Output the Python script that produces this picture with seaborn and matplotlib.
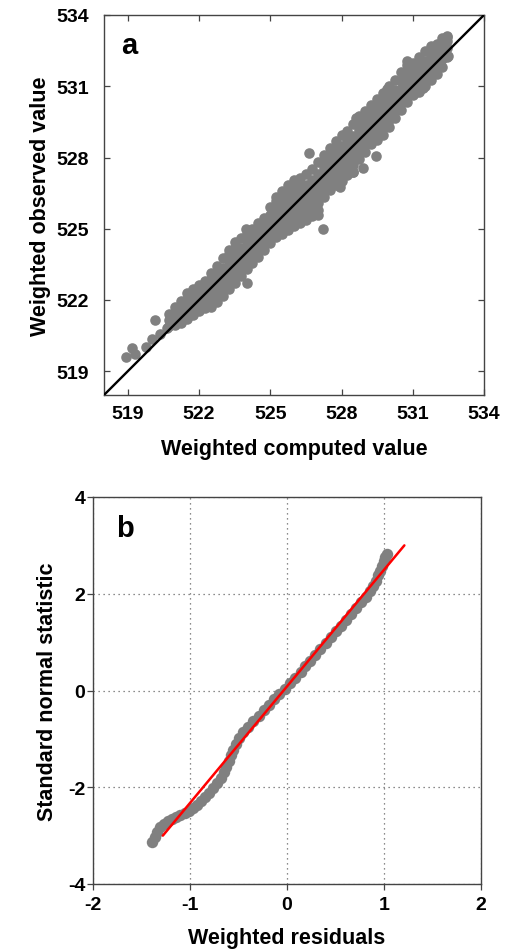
import matplotlib
matplotlib.use("Agg")
import matplotlib.pyplot as plt
import seaborn as sns
import pandas as pd

# ---------------- panel a: weighted observed vs weighted computed ----------------
col_computed = [520.75, 521.0, 521.25, 521.5, 521.75, 522.0, 522.25, 522.5, 522.75, 523.0,
                523.25, 523.5, 523.75, 524.0, 524.25, 524.5, 524.75, 525.0, 525.25, 525.5,
                525.75, 526.0, 526.25, 526.5, 526.75, 527.0, 527.25, 527.5, 527.75, 528.0,
                528.25, 528.5, 528.75, 529.0, 529.25, 529.5, 529.75, 530.0, 530.25, 530.5,
                530.75, 531.0, 531.25, 531.5, 531.75, 532.0, 532.25, 532.45]
col_observed = [
    [520.9, 521.15, 521.4],
    [520.95, 521.2, 521.45, 521.7],
    [521.05, 521.35, 521.65, 521.95],
    [521.2, 521.5, 521.8, 522.05, 522.3],
    [521.35, 521.65, 521.95, 522.2, 522.45],
    [521.55, 521.85, 522.15, 522.4, 522.65],
    [521.65, 521.95, 522.25, 522.5, 522.8],
    [521.7, 522.0, 522.3, 522.6, 522.9, 523.15],
    [521.9, 522.2, 522.5, 522.8, 523.1, 523.45],
    [522.15, 522.45, 522.75, 523.05, 523.35, 523.75],
    [522.45, 522.75, 523.05, 523.35, 523.65, 523.95, 524.1],
    [522.7, 523.0, 523.3, 523.6, 523.9, 524.2, 524.45],
    [523.0, 523.3, 523.6, 523.9, 524.2, 524.6],
    [523.3, 523.6, 523.9, 524.2, 524.5, 524.8],
    [523.55, 523.85, 524.15, 524.45, 524.75, 525.0],
    [523.8, 524.1, 524.4, 524.7, 525.0, 525.25],
    [524.1, 524.4, 524.7, 525.0, 525.25, 525.45],
    [524.4, 524.7, 525.0, 525.3, 525.6, 525.9],
    [524.65, 524.95, 525.25, 525.55, 525.85, 526.15, 526.35],
    [524.8, 525.1, 525.4, 525.7, 526.0, 526.3, 526.6],
    [524.95, 525.25, 525.55, 525.85, 526.15, 526.45, 526.85],
    [525.1, 525.4, 525.7, 526.0, 526.3, 526.6, 526.9, 527.05],
    [525.25, 525.55, 525.85, 526.15, 526.45, 526.75, 527.15],
    [525.35, 525.65, 525.95, 526.25, 526.55, 526.85, 527.3],
    [525.55, 525.85, 526.15, 526.45, 526.75, 527.05, 527.5],
    [525.8, 526.1, 526.4, 526.7, 527.0, 527.3, 527.8],
    [526.35, 526.65, 526.95, 527.25, 527.55, 527.85, 528.1],
    [526.65, 526.95, 527.25, 527.55, 527.85, 528.15, 528.4],
    [526.85, 527.15, 527.45, 527.75, 528.05, 528.35, 528.7],
    [527.0, 527.3, 527.6, 527.9, 528.2, 528.5, 528.95],
    [527.25, 527.55, 527.85, 528.15, 528.45, 528.75, 529.1],
    [527.4, 527.7, 528.0, 528.3, 528.6, 528.9, 529.4],
    [527.95, 528.25, 528.55, 528.85, 529.15, 529.45, 529.75],
    [528.25, 528.55, 528.85, 529.15, 529.45, 529.75, 529.95],
    [528.55, 528.85, 529.15, 529.45, 529.75, 530.05, 530.2],
    [528.75, 529.05, 529.35, 529.65, 529.95, 530.25, 530.45],
    [528.95, 529.25, 529.55, 529.85, 530.15, 530.45, 530.7],
    [529.3, 529.6, 529.9, 530.2, 530.5, 530.8, 531.0],
    [529.65, 529.95, 530.25, 530.55, 530.85, 531.25],
    [530.0, 530.3, 530.6, 530.9, 531.2, 531.6],
    [530.35, 530.65, 530.95, 531.25, 531.55, 531.9],
    [530.65, 531.0, 531.3, 531.6, 531.9, 532.0],
    [530.75, 531.05, 531.35, 531.65, 531.95, 532.25],
    [531.0, 531.35, 531.7, 532.05, 532.5],
    [531.25, 531.6, 531.95, 532.3, 532.7],
    [531.5, 531.85, 532.2, 532.5, 532.8],
    [531.8, 532.15, 532.5, 532.85, 533.05],
    [532.25, 532.6, 532.9, 533.1],
]
# isolated points outside the dense band
out_computed = [518.93, 519.17, 519.31, 519.77, 520.0, 520.15, 520.36, 520.64,
                524.0, 523.98, 526.64, 527.2, 527.02, 527.94, 528.5, 528.91,
                529.46, 531.14, 531.44, 530.74, 532.5, 532.43, 528.62, 529.9]
out_observed = [519.59, 520.0, 519.73, 520.03, 520.36, 521.16, 520.57, 520.81,
                522.7, 524.98, 528.18, 524.98, 525.57, 526.74, 527.38, 527.57,
                528.07, 530.77, 530.91, 532.08, 532.26, 533.08, 529.68, 530.88]
identity_line = [518, 534]
a_ticks = [519, 522, 525, 528, 531, 534]

# ---------------- panel b: normal probability plot of residuals ----------------
qq_residuals = [-1.39, -1.36, -1.34, -1.31, -1.27, -1.23, -1.19, -1.14, -1.10, -1.05,
                -1.01, -0.97, -0.93, -0.89, -0.85, -0.80, -0.76, -0.72, -0.68, -0.65,
                -0.625, -0.60, -0.58, -0.555, -0.525, -0.49, -0.45, -0.40, -0.35, -0.29,
                -0.24, -0.19, -0.13, -0.08, -0.02, 0.03, 0.08, 0.14, 0.19, 0.24,
                0.29, 0.34, 0.40, 0.45, 0.51, 0.56, 0.61, 0.66, 0.71, 0.76,
                0.81, 0.86, 0.89, 0.915, 0.935, 0.955, 0.975, 0.995, 1.01, 1.03]
qq_normal = [-3.14, -3.02, -2.93, -2.83, -2.76, -2.70, -2.65, -2.61, -2.58, -2.54,
             -2.49, -2.43, -2.36, -2.28, -2.20, -2.11, -2.02, -1.92, -1.81, -1.69,
             -1.58, -1.46, -1.34, -1.22, -1.10, -0.98, -0.86, -0.75, -0.64, -0.52,
             -0.41, -0.30, -0.18, -0.07, 0.04, 0.15, 0.26, 0.38, 0.50, 0.62,
             0.74, 0.86, 0.98, 1.10, 1.22, 1.34, 1.46, 1.58, 1.70, 1.82,
             1.94, 2.05, 2.16, 2.27, 2.38, 2.48, 2.58, 2.67, 2.75, 2.82]
fit_residuals = [-1.28, 1.21]
fit_normal = [-3.0, 3.0]
b_xticks = [-2, -1, 0, 1, 2]
b_yticks = [-4, -2, 0, 2, 4]

# ---------------- build tables ----------------
rows = []
for cx, obs in zip(col_computed, col_observed):
    for ov in obs:
        rows.append((cx, ov))
rows += list(zip(out_computed, out_observed))
df_a = pd.DataFrame(rows, columns=["computed", "observed"])
df_b = pd.DataFrame({"residual": qq_residuals, "normal": qq_normal})

# ---------------- style ----------------
sns.set_theme(style="white")
plt.rcParams["font.family"] = ["Liberation Sans", "DejaVu Sans"]
plt.rcParams["font.weight"] = "bold"
plt.rcParams["axes.labelweight"] = "bold"
plt.rcParams["axes.unicode_minus"] = False
plt.rcParams["text.color"] = "black"
plt.rcParams["axes.labelcolor"] = "black"

GRAY = "#808080"
SPINE = "#444444"
TICK_FS = 14
LABEL_FS = 15.5

fig = plt.figure(figsize=(5.12, 9.53), dpi=100)
ax1 = fig.add_axes([104 / 512, 1 - 396 / 953, 380 / 512, 380 / 953])
ax2 = fig.add_axes([93 / 512, 1 - 885 / 953, 388 / 512, 387 / 953])

# panel a
sns.scatterplot(data=df_a, x="computed", y="observed", ax=ax1, color=GRAY,
                s=58, linewidth=0, legend=False, zorder=2)
ax1.plot(identity_line, identity_line, color="black", lw=1.7, zorder=3)
ax1.set_xlim(518, 534)
ax1.set_ylim(518, 534)
ax1.set_xticks(a_ticks)
ax1.set_yticks(a_ticks)
ax1.tick_params(direction="in", length=4, width=0.9, color=SPINE, labelcolor="black",
                top=True, right=True, bottom=True, left=True, labelsize=TICK_FS)
ax1.tick_params(axis="x", pad=7)
ax1.tick_params(axis="y", pad=11)
ax1.set_xlabel("Weighted computed value", fontsize=LABEL_FS, fontweight="bold", labelpad=12)
ax1.set_ylabel("Weighted observed value", fontsize=LABEL_FS, fontweight="bold", labelpad=4)
ax1.text(0.045, 0.92, "a", transform=ax1.transAxes, fontsize=21,
         fontweight="bold", va="center", ha="left")

# panel b
ax2.grid(True, linestyle=(0, (1, 3)), color="#666666", lw=0.9)
sns.scatterplot(data=df_b, x="residual", y="normal", ax=ax2, color=GRAY,
                s=68, linewidth=0, legend=False, zorder=2)
ax2.plot(fit_residuals, fit_normal, color="red", lw=1.8, zorder=3)
ax2.set_xlim(-2, 2)
ax2.set_ylim(-4, 4)
ax2.set_xticks(b_xticks)
ax2.set_yticks(b_yticks)
ax2.tick_params(direction="out", length=4, width=0.9, color=SPINE, labelcolor="black",
                bottom=True, left=True, labelsize=TICK_FS)
ax2.tick_params(axis="x", pad=5)
ax2.tick_params(axis="y", pad=1.5)
ax2.set_xlabel("Weighted residuals", fontsize=LABEL_FS, fontweight="bold", labelpad=10)
ax2.set_ylabel("Standard normal statistic", fontsize=LABEL_FS, fontweight="bold", labelpad=7)
ax2.text(0.06, 0.92, "b", transform=ax2.transAxes, fontsize=21,
         fontweight="bold", va="center", ha="left")

for ax in (ax1, ax2):
    ax.set_axisbelow(True)
    for sp in ax.spines.values():
        sp.set_color(SPINE)
        sp.set_linewidth(1.0)

fig.savefig("out.png", dpi=100)
